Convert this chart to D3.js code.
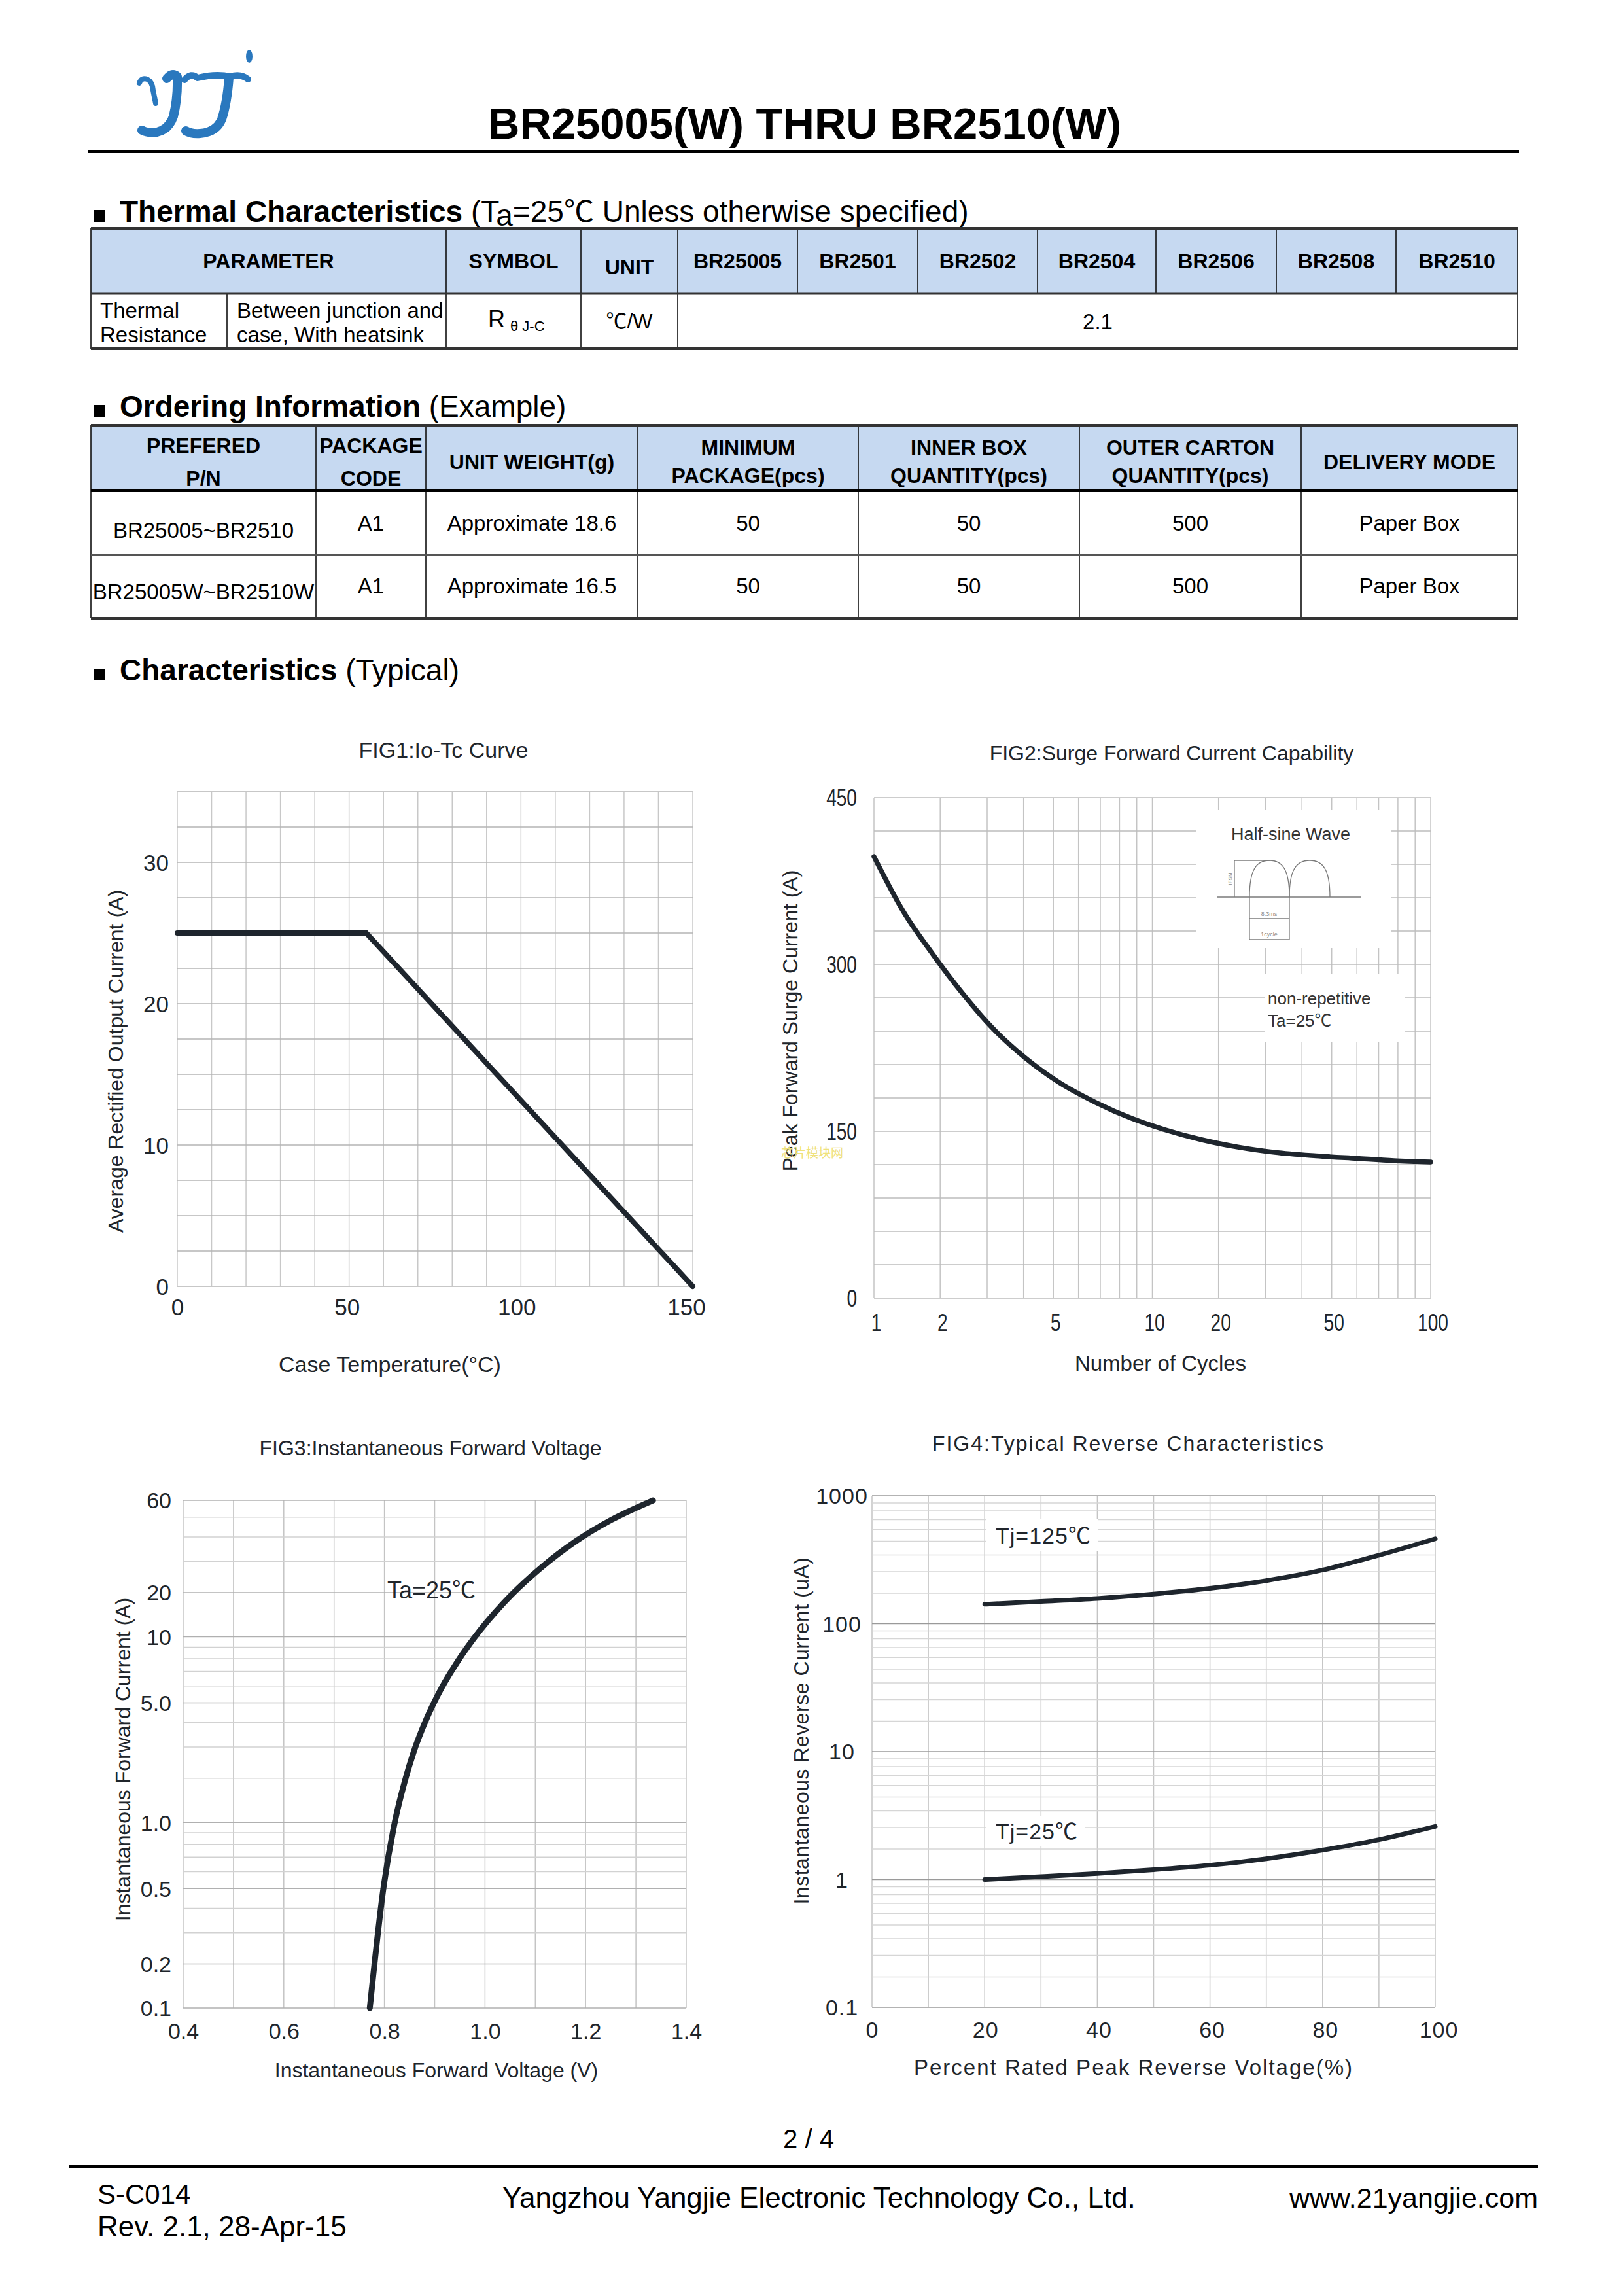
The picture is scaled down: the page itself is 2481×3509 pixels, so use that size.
<!DOCTYPE html>
<html><head><meta charset="utf-8">
<script src="https://cdnjs.cloudflare.com/ajax/libs/d3/7.8.5/d3.min.js"></script>
<style>
html,body{margin:0;padding:0;background:#fff;}
svg{display:block;}
</style></head>
<body>
<svg id="page" width="2481" height="3509" xmlns="http://www.w3.org/2000/svg"></svg>
<script>
// ================= DATA =================
const docTitle = "BR25005(W) THRU BR2510(W)";
const thermalHeaders = ["PARAMETER","SYMBOL","UNIT","BR25005","BR2501","BR2502","BR2504","BR2506","BR2508","BR2510"];
const thermalParam = ["Thermal","Resistance"];
const thermalCond = ["Between junction and","case, With heatsink"];
const thermalUnit = "℃/W";
const thermalValue = "2.1";
const orderHeaders = [["PREFERED","P/N"],["PACKAGE","CODE"],["UNIT WEIGHT(g)"],["MINIMUM","PACKAGE(pcs)"],["INNER BOX","QUANTITY(pcs)"],["OUTER CARTON","QUANTITY(pcs)"],["DELIVERY MODE"]];
const orderRows = [
  ["BR25005~BR2510","A1","Approximate 18.6","50","50","500","Paper Box"],
  ["BR25005W~BR2510W","A1","Approximate 16.5","50","50","500","Paper Box"]
];

// FIG1 Io-Tc
const fig1Temp = [0, 55, 150];
const fig1Current = [25, 25, 0];
const fig1XTicks = [0, 50, 100, 150];
const fig1YTicks = [0, 10, 20, 30];

// FIG2 surge
const fig2Cycles = [1, 1.39, 1.87, 2.44, 3.13, 4.03, 5.21, 6.77, 8.73, 11.5, 17.0, 23.8, 32.3, 44.5, 60.1, 77.9, 100];
const fig2Surge  = [397, 348, 309, 274, 243, 216.5, 194, 176, 161.4, 151.6, 142.5, 135.8, 131.1, 127.9, 125.6, 123.6, 122.4];
const fig2XTicks = [1, 2, 5, 10, 20, 50, 100];
const fig2YTicks = [0, 150, 300, 450];

// FIG3 forward voltage
const fig3Voltage = [0.771, 0.799, 0.821, 0.841, 0.858, 0.882, 0.915, 0.945, 0.990, 1.052, 1.110, 1.180, 1.251, 1.334];
const fig3Current = [0.1, 0.52, 1.02, 1.94, 2.81, 4.08, 5.95, 7.73, 11.2, 19.3, 27.5, 38.0, 48.5, 60];
const fig3XTicks = [0.4, 0.6, 0.8, 1.0, 1.2, 1.4];
const fig3YTicks = [0.1, 0.2, 0.5, 1, 5, 10, 20, 60];
const fig3YLabels = ["0.1","0.2","0.5","1.0","5.0","10","20","60"];

// FIG4 reverse characteristics
const fig4Percent = [20, 30, 40, 50, 60, 70, 80, 90, 100];
const fig4Tj125 = [159, 169, 180, 197, 220, 255, 309, 398, 520];
const fig4Tj25  = [1.0, 1.08, 1.17, 1.28, 1.42, 1.64, 1.96, 2.40, 3.06];
const fig4XTicks = [0, 20, 40, 60, 80, 100];
const fig4YTicks = [0.1, 1, 10, 100, 1000];
const fig4YLabels = ["0.1","1","10","100","1000"];

// ================= STYLE / LAYOUT =================
const FONT = "'Liberation Sans', Arial, Helvetica, sans-serif";
const CJK = "'Noto Sans CJK SC', 'DejaVu Sans', sans-serif";
const INK = "#20252b";
const CURVE = "#1e252d";

const svg = d3.select("#page");
svg.append("rect").attr("width",2481).attr("height",3509).attr("fill","#fff");

// the original charts use a "pseudo-log" decade layout (each decade repeats the same
// warped spacing of its 1..10 minor lines); reproduce it as a transform feeding a d3 linear scale
const pseudoLog = v => {
  const d = Math.floor(Math.log10(v) + 1e-9);
  const m = v / Math.pow(10, d);
  return d + Math.log10((m + 1) / 2) / Math.log10(5.5);
};
function decadeTicks(lo, hi) {
  const out = [];
  for (let d = Math.floor(Math.log10(lo) + 1e-9); d <= Math.ceil(Math.log10(hi)); d++)
    for (let m = 1; m <= 9; m++) {
      const v = +(m * Math.pow(10, d)).toPrecision(6);
      if (v >= lo - 1e-12 && v <= hi + 1e-9) out.push(v);
    }
  return out;
}

function addText(parent, x, y, s, o = {}) {
  const t = parent.append("text").attr("x", x).attr("y", y)
    .attr("font-family", o.family || FONT).attr("font-size", o.size || 33)
    .attr("font-weight", o.weight || "normal").attr("fill", o.fill || "#000")
    .attr("text-anchor", o.anchor || "start");
  if (o.dy) t.attr("dy", o.dy);
  if (o.ls) t.attr("letter-spacing", o.ls);
  if (o.transform) t.attr("transform", o.transform);
  const parts = s.split("℃");
  parts.forEach((p, i) => {
    if (p) t.append("tspan").text(p);
    if (i < parts.length - 1) t.append("tspan").attr("font-family", CJK).attr("font-weight","normal").text("℃");
  });
  return t;
}

// ================= HEADER =================
const BLUE = "#2a78be";
const logo = svg.append("g").attr("fill","none").attr("stroke",BLUE).attr("stroke-linecap","round").attr("stroke-linejoin","round");
logo.append("path").attr("d","M213,127 Q216,118 225,121 Q233,125 234,138 L238,158").attr("stroke-width",8);
logo.append("path").attr("d","M255,120 Q263,110 271,117 Q272,150 265,178 Q258,198 240,202 Q226,204 217,199").attr("stroke-width",14);
logo.append("path").attr("d","M282,122 Q292,110 302,119 Q330,112 352,117 Q368,112 379,121").attr("stroke-width",10);
logo.append("path").attr("d","M350,119 Q347,158 339,182 Q331,202 306,204 Q292,205 284,200").attr("stroke-width",14);
logo.append("ellipse").attr("cx",381).attr("cy",86).attr("rx",5).attr("ry",10).attr("fill",BLUE).attr("stroke","none");

addText(svg, 1230, 212, docTitle, {size: 67, weight: "bold", anchor: "middle"});
svg.append("line").attr("x1",134).attr("x2",2322).attr("y1",232).attr("y2",232).attr("stroke","#000").attr("stroke-width",4);

// ================= SECTION HEADINGS =================
function bullet(y) {
  svg.append("rect").attr("x",143).attr("y",y-18).attr("width",18).attr("height",18).attr("fill","#000");
}
bullet(339);
{
  const t = svg.append("text").attr("x",183).attr("y",339).attr("font-family",FONT).attr("font-size",46).attr("fill","#000");
  t.append("tspan").attr("font-weight","bold").text("Thermal Characteristics");
  t.append("tspan").text(" (T");
  t.append("tspan").attr("dy",6).text("a");
  t.append("tspan").attr("dy",-6).text("=25");
  t.append("tspan").attr("font-family",CJK).text("℃");
  t.append("tspan").text(" Unless otherwise specified)");
}
bullet(637);
{
  const t = svg.append("text").attr("x",183).attr("y",637).attr("font-family",FONT).attr("font-size",46).attr("fill","#000");
  t.append("tspan").attr("font-weight","bold").text("Ordering Information");
  t.append("tspan").text(" (Example)");
}
bullet(1040);
{
  const t = svg.append("text").attr("x",183).attr("y",1040).attr("font-family",FONT).attr("font-size",46).attr("fill","#000");
  t.append("tspan").attr("font-weight","bold").text("Characteristics");
  t.append("tspan").text(" (Typical)");
}

// ================= TABLE 1 =================
const HEADFILL = "#c6d9f1";
const t1Cols = [139, 682, 888, 1036, 1219, 1403, 1586, 1767, 1951, 2134, 2320];
const t1Split = 347;
const t1Rows = [349, 449, 533];
{
  const g = svg.append("g");
  g.append("rect").attr("x",t1Cols[0]).attr("y",t1Rows[0]).attr("width",t1Cols[10]-t1Cols[0]).attr("height",t1Rows[1]-t1Rows[0]).attr("fill",HEADFILL);
  t1Cols.forEach((x,i) => {
    const y2 = (i >= 4 && i <= 9) ? t1Rows[1] : t1Rows[2];
    g.append("line").attr("x1",x).attr("x2",x).attr("y1",t1Rows[0]).attr("y2",y2).attr("stroke","#111").attr("stroke-width",1.6);
  });
  g.append("line").attr("x1",t1Split).attr("x2",t1Split).attr("y1",t1Rows[1]).attr("y2",t1Rows[2]).attr("stroke","#111").attr("stroke-width",1.6);
  [[t1Rows[0],4],[t1Rows[1],3],[t1Rows[2],4]].forEach(([y,w]) =>
    g.append("line").attr("x1",t1Cols[0]).attr("x2",t1Cols[10]).attr("y1",y).attr("y2",y).attr("stroke","#333").attr("stroke-width",w));
  thermalHeaders.forEach((h,i) => {
    const cx = (t1Cols[i] + t1Cols[i+1]) / 2;
    addText(g, cx, i === 2 ? 408 : 399, h, {size: 32, weight: "bold", anchor: "middle", dy: "0.35em"});
  });
  addText(g, 153, 474, thermalParam[0], {size: 33, dy: "0.35em"});
  addText(g, 153, 511, thermalParam[1], {size: 33, dy: "0.35em"});
  addText(g, 362, 474, thermalCond[0], {size: 33, dy: "0.35em"});
  addText(g, 362, 511, thermalCond[1], {size: 33, dy: "0.35em"});
  const r = g.append("text").attr("x",746).attr("y",500).attr("font-family",FONT).attr("font-size",36).attr("fill","#000");
  r.append("tspan").text("R");
  r.append("tspan").attr("font-size",22).attr("dx",8).attr("dy",6).text("θ J-C");
  addText(g, 962, 491, thermalUnit, {size: 32, anchor: "middle", dy: "0.35em"});
  addText(g, (t1Cols[3]+t1Cols[10])/2, 491, thermalValue, {size: 33, anchor: "middle", dy: "0.35em"});
}

// ================= TABLE 2 =================
const t2Cols = [139, 483, 651, 975, 1312, 1650, 1989, 2320];
const t2Rows = [650, 750, 848, 945];
{
  const g = svg.append("g");
  g.append("rect").attr("x",t2Cols[0]).attr("y",t2Rows[0]).attr("width",t2Cols[7]-t2Cols[0]).attr("height",t2Rows[1]-t2Rows[0]).attr("fill",HEADFILL);
  t2Cols.forEach(x => g.append("line").attr("x1",x).attr("x2",x).attr("y1",t2Rows[0]).attr("y2",t2Rows[3]).attr("stroke","#111").attr("stroke-width",1.6));
  [[t2Rows[0],4,"#333"],[t2Rows[1],4,"#000"],[t2Rows[2],2.5,"#555"],[t2Rows[3],4,"#333"]].forEach(([y,w,c]) =>
    g.append("line").attr("x1",t2Cols[0]).attr("x2",t2Cols[7]).attr("y1",y).attr("y2",y).attr("stroke",c).attr("stroke-width",w));
  orderHeaders.forEach((lines,i) => {
    const cx = (t2Cols[i] + t2Cols[i+1]) / 2;
    if (lines.length === 1) {
      addText(g, cx, 706, lines[0], {size: 32, weight: "bold", anchor: "middle", dy: "0.35em"});
    } else {
      const ys = i < 2 ? [681, 731] : [684, 727];
      lines.forEach((l,k) => addText(g, cx, ys[k], l, {size: 32, weight: "bold", anchor: "middle", dy: "0.35em"}));
    }
  });
  orderRows.forEach((row, r) => {
    row.forEach((v, i) => {
      const cx = (t2Cols[i] + t2Cols[i+1]) / 2;
      const y = i === 0 ? (r === 0 ? 810 : 904) : (r === 0 ? 799 : 895);
      addText(g, cx, y, v, {size: 33, anchor: "middle", dy: "0.35em"});
    });
  });
}

// ================= CHART HELPERS =================
function styleX(a, offset, size, o = {}) {
  a.select(".domain").remove();
  a.attr("font-family", null).attr("font-size", null);
  a.selectAll(".tick line").remove();
  const t = a.selectAll("text").attr("y", offset).attr("dy", "0.35em")
    .attr("font-family", FONT).attr("font-size", size).attr("fill", INK);
  if (o.dx) t.attr("dx", o.dx);
  if (o.ls) t.attr("letter-spacing", o.ls);
  return t;
}
function styleY(a, pad, size, o = {}) {
  a.select(".domain").remove();
  a.attr("font-family", null).attr("font-size", null);
  a.selectAll(".tick line").remove();
  const t = a.selectAll("text").attr("x", -pad).attr("dy", "0.35em")
    .attr("font-family", FONT).attr("font-size", size).attr("fill", INK);
  if (o.anchor) t.attr("text-anchor", o.anchor);
  if (o.ls) t.attr("letter-spacing", o.ls);
  return t;
}
function narrow(sel, f) {
  sel.each(function() {
    const w = this.getComputedTextLength();
    d3.select(this).attr("textLength", w * f).attr("lengthAdjust", "spacingAndGlyphs");
  });
}
function vgrid(g, xs, x, y0, y1, color, width) {
  g.selectAll(null).data(xs).join("line")
    .attr("x1", d => x(d)).attr("x2", d => x(d)).attr("y1", y0).attr("y2", y1)
    .attr("stroke", typeof color === "function" ? color : () => color).attr("stroke-width", width);
}
function hgrid(g, ys, y, x0, x1, color, width) {
  g.selectAll(null).data(ys).join("line")
    .attr("y1", d => y(d)).attr("y2", d => y(d)).attr("x1", x0).attr("x2", x1)
    .attr("stroke", typeof color === "function" ? color : () => color).attr("stroke-width", width);
}

// ================= FIG1 =================
{
  const L = 271, R = 1059, T = 1210, B = 1966;
  const x = d3.scaleLinear().domain([0, 150]).range([L, R]);
  const y = d3.scaleLinear().domain([0, 35]).range([B, T]);
  const g = svg.append("g");
  vgrid(g, d3.range(0, 151, 10), x, T, B, "#c8c8c8", 1.5);
  hgrid(g, d3.range(0, 35.01, 2.5), y, L, R, "#b4b4b4", 1.5);
  const ax = g.append("g").attr("transform", `translate(0,${B})`)
    .call(d3.axisBottom(x).tickValues(fig1XTicks).tickFormat(d3.format("d")).tickSize(0));
  styleX(ax, 32, 35).attr("dx", d => -d / 15);
  const ay = g.append("g").attr("transform", `translate(${L},0)`)
    .call(d3.axisLeft(y).tickValues(fig1YTicks).tickFormat(d3.format("d")).tickSize(0));
  styleY(ay, 13, 35);
  g.append("path").datum(d3.zip(fig1Temp, fig1Current))
    .attr("d", d3.line().x(d => x(d[0])).y(d => y(d[1])))
    .attr("fill", "none").attr("stroke", CURVE).attr("stroke-width", 8).attr("stroke-linecap", "round").attr("stroke-linejoin", "miter");
  addText(g, 678, 1146, "FIG1:Io-Tc Curve", {size: 34, anchor: "middle", dy: "0.35em", fill: INK});
  addText(g, 596, 2085, "Case Temperature(°C)", {size: 34, anchor: "middle", dy: "0.35em", fill: INK});
  addText(g, 0, 0, "Average Rectified Output Current (A)", {size: 32, anchor: "middle", dy: "0.35em", fill: INK, transform: "translate(177,1622) rotate(-90)"});
}

// ================= FIG2 =================
{
  const L = 1336, R = 2187, T = 1219, B = 1984;
  const xLin = d3.scaleLinear().domain([pseudoLog(1), pseudoLog(100)]).range([L, R]);
  const x = v => xLin(pseudoLog(v));
  const y = d3.scaleLinear().domain([0, 450]).range([B, T]);
  const g = svg.append("g");
  vgrid(g, decadeTicks(1, 100), x, T, B, "#c4c4c4", 1.5);
  hgrid(g, d3.range(0, 451, 30), y, L, R, "#bcbcbc", 1.5);
  const ax = g.append("g").attr("transform", `translate(0,${B})`)
    .call(d3.axisBottom(xLin).tickValues(fig2XTicks.map(pseudoLog)).tickFormat((d, i) => String(fig2XTicks[i])).tickSize(0));
  narrow(styleX(ax, 37, 36, {dx: 3}), 0.78);
  const ay = g.append("g").attr("transform", `translate(${L},0)`)
    .call(d3.axisLeft(y).tickValues(fig2YTicks).tickFormat(d3.format("d")).tickSize(0));
  narrow(styleY(ay, 26, 36), 0.78);
  // inset boxes
  g.append("rect").attr("x", 1829).attr("y", 1238).attr("width", 298).attr("height", 211).attr("fill", "#fff");
  g.append("rect").attr("x", 1934).attr("y", 1489).attr("width", 214).attr("height", 103).attr("fill", "#fff");
  addText(g, 1973, 1275, "Half-sine Wave", {size: 27, anchor: "middle", dy: "0.35em", fill: "#333"});
  const d = g.append("g").attr("fill", "none").attr("stroke", "#7a7a7a").attr("stroke-width", 1.3);
  d.append("line").attr("x1", 1861).attr("x2", 2080).attr("y1", 1371).attr("y2", 1371);
  d.append("path").attr("d", "M1910,1371 C1910,1330 1920,1315 1940.5,1315 C1961,1315 1971,1330 1971,1371");
  d.append("path").attr("d", "M1971,1371 C1971,1330 1981,1315 2002,1315 C2023,1315 2033,1330 2033,1371");
  d.append("line").attr("x1", 1887).attr("x2", 1887).attr("y1", 1315).attr("y2", 1371);
  d.append("line").attr("x1", 1887).attr("x2", 1941).attr("y1", 1315).attr("y2", 1315);
  d.append("line").attr("x1", 1910).attr("x2", 1910).attr("y1", 1371).attr("y2", 1437);
  d.append("line").attr("x1", 1971).attr("x2", 1971).attr("y1", 1371).attr("y2", 1437);
  d.append("line").attr("x1", 1910).attr("x2", 1971).attr("y1", 1404).attr("y2", 1404);
  d.append("line").attr("x1", 1910).attr("x2", 1971).attr("y1", 1436).attr("y2", 1436);
  addText(g, 1940, 1397, "8.3ms", {size: 9, anchor: "middle", dy: "0.35em", fill: "#888"});
  addText(g, 1940, 1428, "1cycle", {size: 9, anchor: "middle", dy: "0.35em", fill: "#888"});
  addText(g, 0, 0, "IFSM", {size: 8, anchor: "middle", dy: "0.35em", fill: "#888", transform: "translate(1880,1343) rotate(-90)"});
  addText(g, 1938, 1526, "non-repetitive", {size: 26, dy: "0.35em", fill: "#333"});
  addText(g, 1938, 1560, "Ta=25℃", {size: 26, dy: "0.35em", fill: "#333"});
  g.append("path").datum(d3.zip(fig2Cycles, fig2Surge))
    .attr("d", d3.line().x(d => x(d[0])).y(d => y(d[1])).curve(d3.curveMonotoneX))
    .attr("fill", "none").attr("stroke", CURVE).attr("stroke-width", 7.5).attr("stroke-linecap", "round");
  addText(g, 1791, 1151, "FIG2:Surge Forward Current Capability", {size: 32, anchor: "middle", dy: "0.35em", fill: INK});
  addText(g, 1774, 2083, "Number of Cycles", {size: 33, anchor: "middle", dy: "0.35em", fill: INK});
  addText(g, 0, 0, "Peak Forward Surge Current (A)", {size: 32, anchor: "middle", dy: "0.35em", fill: INK, transform: "translate(1208,1560) rotate(-90)"});
  addText(g, 1194, 1762, "芯片模块网", {size: 19, dy: "0.35em", fill: "#efe27c", family: CJK});
}

// ================= FIG3 =================
{
  const L = 280, R = 1049, T = 2293, B = 3069;
  const x = d3.scaleLinear().domain([0.4, 1.4]).range([L, R]);
  const yLin = d3.scaleLinear().domain([pseudoLog(0.1), pseudoLog(60)]).range([B, T]);
  const y = v => yLin(pseudoLog(v));
  const g = svg.append("g");
  vgrid(g, d3.range(4, 15).map(v => v / 10), x, T, B, "#c4c4c4", 1.5);
  hgrid(g, decadeTicks(0.1, 60), y, L, R, d => (fig3YTicks.includes(d) ? "#b0b0b0" : "#d2d2d2"), 1.5);
  const ax = g.append("g").attr("transform", `translate(0,${B})`)
    .call(d3.axisBottom(x).tickValues(fig3XTicks).tickFormat(d3.format(".1f")).tickSize(0));
  styleX(ax, 35, 34);
  const ay = g.append("g").attr("transform", `translate(${L},0)`)
    .call(d3.axisLeft(yLin).tickValues(fig3YTicks.map(pseudoLog)).tickFormat((d, i) => fig3YLabels[i]).tickSize(0));
  styleY(ay, 18, 34);
  g.append("path").datum(d3.zip(fig3Voltage, fig3Current))
    .attr("d", d3.line().x(d => x(d[0])).y(d => y(d[1])).curve(d3.curveMonotoneX))
    .attr("fill", "none").attr("stroke", CURVE).attr("stroke-width", 9).attr("stroke-linecap", "round");
  addText(g, 592, 2430, "Ta=25℃", {size: 36, dy: "0.35em", fill: INK});
  addText(g, 658, 2213, "FIG3:Instantaneous Forward Voltage", {size: 32, anchor: "middle", dy: "0.35em", fill: INK});
  addText(g, 667, 3164, "Instantaneous Forward Voltage (V)", {size: 32, anchor: "middle", dy: "0.35em", fill: INK});
  addText(g, 0, 0, "Instantaneous Forward Current (A)", {size: 32, anchor: "middle", dy: "0.35em", fill: INK, transform: "translate(188,2689) rotate(-90)"});
}

// ================= FIG4 =================
{
  const L = 1333, R = 2194, T = 2286, B = 3068;
  const x = d3.scaleLinear().domain([0, 100]).range([L, R]);
  const yLin = d3.scaleLinear().domain([pseudoLog(0.1), pseudoLog(1000)]).range([B, T]);
  const y = v => yLin(pseudoLog(v));
  const g = svg.append("g");
  vgrid(g, d3.range(0, 101, 10), x, T, B, "#c4c4c4", 1.5);
  hgrid(g, decadeTicks(0.1, 1000), y, L, R, d => (fig4YTicks.includes(d) ? "#9a9a9a" : "#d6d6d6"), 1.5);
  const ax = g.append("g").attr("transform", `translate(0,${B})`)
    .call(d3.axisBottom(x).tickValues(fig4XTicks).tickFormat(d3.format("d")).tickSize(0));
  styleX(ax, 34, 34, {ls: 1}).attr("dx", d => d / 20);
  const ay = g.append("g").attr("transform", `translate(${L},0)`)
    .call(d3.axisLeft(yLin).tickValues(fig4YTicks.map(pseudoLog)).tickFormat((d, i) => fig4YLabels[i]).tickSize(0));
  styleY(ay, 46, 34, {anchor: "middle", ls: 1});
  const line = d3.line().x(d => x(d[0])).y(d => y(d[1])).curve(d3.curveMonotoneX);
  [fig4Tj125, fig4Tj25].forEach(s => {
    g.append("path").datum(d3.zip(fig4Percent, s)).attr("d", line)
      .attr("fill", "none").attr("stroke", CURVE).attr("stroke-width", 7).attr("stroke-linecap", "round");
  });
  g.append("rect").attr("x", 1508).attr("y", 2322).attr("width", 170).attr("height", 48).attr("fill", "#fff");
  g.append("rect").attr("x", 1508).attr("y", 2776).attr("width", 150).attr("height", 46).attr("fill", "#fff");
  addText(g, 1522, 2347, "Tj=125℃", {size: 34, dy: "0.35em", fill: INK, ls: 1});
  addText(g, 1522, 2799, "Tj=25℃", {size: 34, dy: "0.35em", fill: INK, ls: 1});
  addText(g, 1725, 2206, "FIG4:Typical Reverse Characteristics", {size: 32, anchor: "middle", dy: "0.35em", fill: INK, ls: 2});
  addText(g, 1733, 3159, "Percent Rated Peak Reverse Voltage(%)", {size: 33, anchor: "middle", dy: "0.35em", fill: INK, ls: 2});
  addText(g, 0, 0, "Instantaneous Reverse Current (uA)", {size: 32, anchor: "middle", dy: "0.35em", fill: INK, ls: 0.5, transform: "translate(1225,2645) rotate(-90)"});
}

// ================= FOOTER =================
addText(svg, 1236, 3283, "2 / 4", {size: 40, anchor: "middle"});
svg.append("line").attr("x1",105).attr("x2",2351).attr("y1",3311).attr("y2",3311).attr("stroke","#000").attr("stroke-width",4);
addText(svg, 149, 3368, "S-C014", {size: 42});
addText(svg, 149, 3418, "Rev. 2.1, 28-Apr-15", {size: 44});
addText(svg, 768, 3374, "Yangzhou Yangjie Electronic Technology Co., Ltd.", {size: 44});
addText(svg, 2351, 3374, "www.21yangjie.com", {size: 43, anchor: "end"});
</script>
</body></html>
